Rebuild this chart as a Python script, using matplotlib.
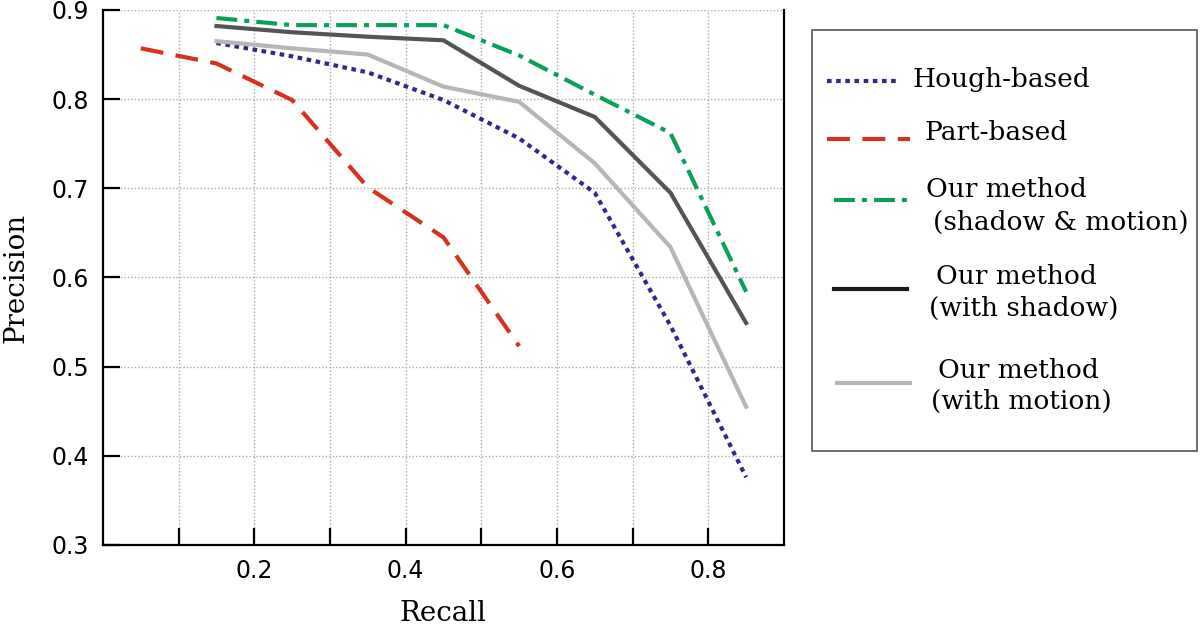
import matplotlib
matplotlib.use("Agg")
import matplotlib.pyplot as plt
from matplotlib.lines import Line2D
from matplotlib.patches import Rectangle

# Data
recall = [0.05, 0.15, 0.25, 0.35, 0.45, 0.55, 0.65, 0.75, 0.85]
hough = [None, 0.863, 0.848, 0.830, 0.799, 0.756, 0.695, 0.546, 0.376]
part = [0.857, 0.840, 0.799, 0.701, 0.645, 0.523, None, None, None]
ours_both = [None, 0.891, 0.883, 0.883, 0.883, 0.849, 0.805, 0.762, 0.584]
ours_shadow = [None, 0.882, 0.875, 0.870, 0.866, 0.815, 0.780, 0.695, 0.549]
ours_motion = [None, 0.865, 0.857, 0.850, 0.814, 0.797, 0.728, 0.634, 0.455]

x_ticks = [0.1, 0.2, 0.3, 0.4, 0.5, 0.6, 0.7, 0.8]
x_labels = ["", "0.2", "", "0.4", "", "0.6", "", "0.8"]
y_ticks = [0.3, 0.4, 0.5, 0.6, 0.7, 0.8, 0.9]

BLUE = "#2e2a8c"
RED = "#d8301e"
GREEN = "#0aa058"
DARK = "#545454"
LIGHT = "#b6b6b6"
SERIF = "DejaVu Serif"


def pairs(ys):
    xs = [x for x, y in zip(recall, ys) if y is not None]
    return xs, [y for y in ys if y is not None]


fig = plt.figure(figsize=(12, 6.27), dpi=100)
ax = fig.add_axes([0.0858, 0.1308, 0.5675, 0.8533])

lw = 3.0
ax.plot(*pairs(hough), color=BLUE, lw=lw, linestyle=(0, (1.1, 1.1)))
ax.plot(*pairs(part), color=RED, lw=lw, linestyle=(0, (5.5, 3.0)))
ax.plot(*pairs(ours_both), color=GREEN, lw=lw, linestyle=(0, (5.0, 1.7, 1.2, 1.7)))
ax.plot(*pairs(ours_shadow), color=DARK, lw=lw)
ax.plot(*pairs(ours_motion), color=LIGHT, lw=lw)

ax.set_xlim(0, 0.9)
ax.set_ylim(0.3, 0.9)
ax.set_xticks(x_ticks)
ax.set_xticklabels(x_labels)
ax.set_yticks(y_ticks)
ax.set_yticklabels([f"{v:.1f}" for v in y_ticks])
ax.tick_params(direction="in", length=12, width=1.6, labelsize=17, pad=10,
               top=False, right=False)
ax.grid(True, color="#aaaaaa", linestyle=(0, (1, 1.5)), linewidth=1.0)
ax.set_axisbelow(True)
ax.spines["top"].set_visible(False)
for s in ["left", "bottom", "right"]:
    ax.spines[s].set_linewidth(1.6)

ax.set_xlabel("Recall", fontfamily=SERIF, fontsize=20, labelpad=12)
ax.set_ylabel("Precision", fontfamily=SERIF, fontsize=20, labelpad=16)

# Legend box drawn by hand to follow the uneven layout of the reference
W, H = 1200.0, 627.0


def fx(px):
    return px / W


def fy(py):
    return 1 - py / H


fig.patches.append(Rectangle((fx(812), fy(451)), fx(1197) - fx(812), fy(30) - fy(451),
                             transform=fig.transFigure, fill=False,
                             edgecolor="#555555", linewidth=1.2))

legend_items = [
    (BLUE, (0, (1.1, 1.1)), 827, 896, 81, ["Hough-based"], [912], [79]),
    (RED, (0, (5.5, 3.0)), 827, 910, 139, ["Part-based"], [925], [132]),
    (GREEN, (0, (5.0, 1.7, 1.2, 1.7)), 834, 907, 200,
     ["Our method", "(shadow & motion)"], [926, 933], [190, 222]),
    ("#1a1a1a", "-", 834, 907, 289, ["Our method", "(with shadow)"], [936, 929], [277, 308]),
    (LIGHT, "-", 837, 910, 383, ["Our method", "(with motion)"], [938, 931], [370, 401]),
]
for color, ls, x0, x1, yl, texts, tx, ty in legend_items:
    fig.add_artist(Line2D([fx(x0), fx(x1)], [fy(yl), fy(yl)], transform=fig.transFigure,
                          color=color, lw=lw, linestyle=ls))
    for t, xx, yy in zip(texts, tx, ty):
        fig.text(fx(xx), fy(yy), t, fontfamily=SERIF, fontsize=19,
                 ha="left", va="center")

fig.savefig("out.png", dpi=100)
